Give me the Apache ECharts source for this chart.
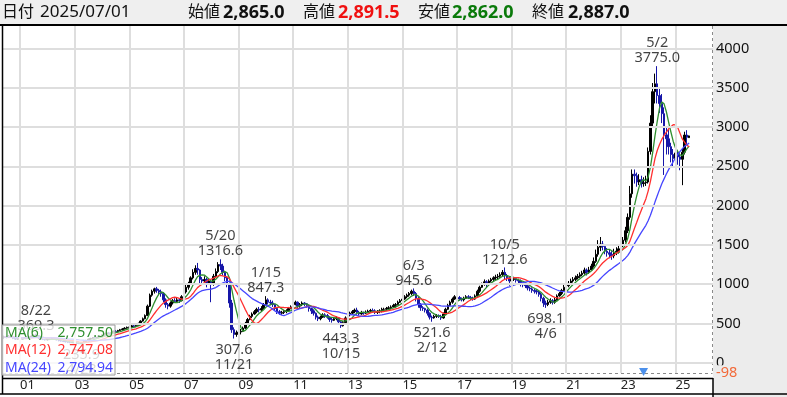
<!DOCTYPE html>
<html><head><meta charset="utf-8">
<script src="https://cdn.jsdelivr.net/npm/echarts@6/dist/echarts.min.js"></script>
<style>html,body{margin:0;padding:0;background:#fff}#c{width:787px;height:397px}</style>
</head><body><div id="c"></div>
<script>
// Monthly candles [open, close, low, high]; y2000 starts in June
const y2000 = [[320,330,305,345],[330,320,310,340],[320,340,315,350],[340,325,318,345],[325,310,300,330],[310,300,290,315],[300,305,292,312]];
const y2001 = [[305,300,292,315],[300,310,295,318],[310,320,302,326],[320,315,308,330],[315,330,312,340],[330,340,325,350],[340,350,335,358],[350,345,338,369.3],[345,318,300,350],[318,300,292,322],[300,295,288,306],[295,290,282,300]];
const y2002 = [[290,295,284,302],[295,300,288,306],[300,310,296,318],[310,305,298,316],[305,290,286,310],[290,280,272,294],[280,275,268,286],[275,270,262,280],[270,265,258,276],[265,260,250,270],[260,255,248,266],[255,260,250,266]];
const y2003 = [[260,250,244,264],[250,245,240,256],[245,240,238,252],[240,255,235.9,258],[255,270,250,276],[270,285,266,290],[285,300,280,306],[300,310,294,316],[310,320,304,326],[320,315,308,330],[315,325,310,330],[325,340,320,345]];
const y2004 = [[340,350,334,358],[350,365,345,372],[365,380,360,390],[380,370,362,392],[370,380,362,388],[380,400,375,410],[400,395,385,415],[395,410,388,418],[410,420,402,430],[420,430,412,440],[430,440,424,452],[440,450,432,460]];
const y2005 = [[450,455,440,468],[455,470,448,480],[470,460,450,482],[460,475,452,485],[475,500,470,510],[500,530,495,540],[530,560,522,575],[560,600,552,615],[600,720,595,740],[720,860,710,880],[860,910,840,930],[910,940,880,955]];
const y2006 = [[940,920,890,965],[920,900,860,940],[900,880,840,930],[880,800,770,900],[800,740,700,820],[740,720,680,760],[720,760,700,780],[760,790,740,810],[790,780,760,820],[780,800,760,830],[800,790,760,820],[790,840,780,860]];
const y2007 = [[840,900,830,920],[900,960,880,990],[960,1000,930,1030],[1000,1080,990,1100],[1080,1150,1060,1190],[1150,1200,1120,1240],[1200,1180,1120,1270],[1180,1060,1000,1190],[1060,1040,1000,1090],[1040,1060,1010,1100],[1060,1010,960,1080],[1010,1040,990,1070]];
const y2008 = [[1040,1000,770,1060],[1000,1100,980,1130],[1100,1160,1080,1200],[1160,1250,1140,1280],[1250,1230,1180,1316.6],[1230,1150,1110,1260],[1150,1080,1040,1170],[1080,1000,960,1100],[1000,760,700,1020],[760,420,380,800],[420,360,307.6,450],[360,380,330,410]];
const y2009 = [[380,390,350,420],[390,400,360,430],[400,440,390,460],[440,500,430,520],[500,550,490,570],[550,590,540,610],[590,620,570,640],[620,650,610,670],[650,680,630,700],[680,670,640,710],[670,690,650,720],[690,740,680,760]];
const y2010 = [[740,800,730,847.3],[800,770,740,820],[770,760,730,800],[760,740,710,790],[740,690,660,750],[690,650,620,700],[650,630,610,670],[630,640,610,660],[640,650,620,670],[650,660,630,680],[660,690,650,710],[690,710,680,730]];
const y2011 = [[710,740,700,760],[740,770,730,790],[770,720,680,780],[720,740,700,760],[740,760,720,780],[760,750,720,770],[750,730,700,760],[730,690,650,740],[690,660,620,700],[660,630,600,680],[630,580,550,640],[580,560,530,600]];
const y2012 = [[560,580,540,600],[580,610,570,630],[610,600,570,630],[600,580,560,620],[580,550,520,590],[550,540,510,570],[540,560,530,580],[560,570,540,590],[570,520,500,580],[520,470,443.3,530],[470,510,460,530],[510,570,500,590]];
const y2013 = [[570,610,560,630],[610,630,590,650],[630,650,610,670],[650,670,630,690],[670,640,610,700],[640,620,600,660],[620,640,610,660],[640,630,610,650],[630,645,620,665],[645,655,630,675],[655,665,640,685],[665,660,640,690]];
const y2014 = [[660,640,620,680],[640,650,620,670],[650,660,630,680],[660,680,640,700],[680,680,660,700],[680,690,665,710],[690,700,675,720],[700,710,680,730],[710,730,700,750],[730,740,700,760],[740,770,730,790],[770,790,760,810]];
const y2015 = [[790,810,770,830],[810,840,800,860],[840,860,820,880],[860,880,840,900],[880,910,860,930],[910,880,850,945.6],[880,820,780,900],[820,740,700,840],[740,700,660,760],[700,690,660,720],[690,670,640,700],[670,630,600,690]];
const y2016 = [[630,580,550,640],[580,570,521.6,600],[570,590,560,610],[590,600,570,620],[600,590,570,615],[590,570,545,610],[570,620,560,640],[620,680,610,700],[680,730,670,750],[730,770,720,790],[770,810,750,830],[810,840,800,860]];
const y2017 = [[840,830,810,860],[830,810,790,850],[810,800,780,830],[800,820,780,840],[820,840,810,860],[840,830,810,860],[830,820,800,850],[820,810,790,840],[810,850,800,870],[850,910,840,930],[910,960,890,980],[960,1000,950,1020]];
const y2018 = [[1000,1030,980,1060],[1030,1000,960,1050],[1000,1040,980,1060],[1040,1060,1020,1080],[1060,1080,1040,1100],[1080,1090,1050,1120],[1090,1100,1060,1130],[1100,1120,1080,1150],[1120,1150,1100,1180],[1150,1110,1060,1212.6],[1110,1080,1040,1130],[1080,1040,980,1100]];
const y2019 = [[1040,1060,1010,1080],[1060,1070,1040,1090],[1070,1050,1020,1090],[1050,1040,1010,1070],[1040,1000,970,1060],[1000,990,960,1020],[990,980,950,1010],[980,950,920,1000],[950,940,910,970],[940,920,890,960],[920,910,880,940],[910,900,870,930]];
const y2020 = [[900,870,840,920],[870,820,780,890],[820,760,710,840],[760,740,698.1,790],[740,770,720,800],[770,790,750,820],[790,770,740,810],[770,800,750,830],[800,850,790,870],[850,880,840,900],[880,920,860,940],[920,960,900,990]];
const y2021 = [[960,980,940,1010],[980,1010,960,1040],[1010,1040,990,1070],[1040,1060,1020,1090],[1060,1080,1040,1110],[1080,1100,1060,1130],[1100,1120,1080,1150],[1120,1140,1100,1170],[1140,1180,1120,1210],[1180,1150,1110,1200],[1150,1180,1130,1220],[1180,1230,1170,1260]];
const y2022 = [[1230,1290,1210,1340],[1290,1380,1270,1440],[1380,1470,1350,1560],[1470,1510,1420,1600],[1510,1480,1430,1550],[1480,1420,1380,1500],[1420,1400,1350,1460],[1400,1380,1330,1440],[1380,1360,1310,1420],[1360,1400,1330,1450],[1400,1420,1370,1470],[1420,1450,1390,1500]];
const y2023 = [[1450,1500,1420,1540],[1500,1560,1470,1600],[1560,1680,1530,1730],[1680,1850,1650,1900],[1850,2150,1820,2250],[2150,2400,2100,2460],[2400,2380,2280,2460],[2380,2300,2240,2420],[2300,2330,2260,2400],[2330,2280,2230,2380],[2280,2290,2240,2360],[2290,2300,2250,2380]];
const y2024 = [[2300,2690,2280,2740],[2690,3050,2650,3150],[3050,3450,3000,3560],[3450,3550,3300,3680],[3550,3400,3300,3775],[3400,3300,3180,3500],[3300,3170,3050,3420],[3170,2900,2390,3250],[2900,2850,2650,3000],[2850,2750,2650,2980],[2750,2650,2550,2800],[2650,2600,2500,2720]];
const y2025 = [[2600,2670,2480,2720],[2670,2620,2520,2700],[2620,2590,2450,2680],[2590,2680,2260,2720],[2680,2898,2650,2940],[2898,2870,2780,2960],[2865,2887,2862,2891.5]];

const dataYears = [2000,2001,2002,2003,2004,2005,2006,2007,2008,2009,2010,2011,2012,2013,2014,2015,2016,2017,2018,2019,2020,2021,2022,2023,2024,2025];
const dataByYear = [y2000,y2001,y2002,y2003,y2004,y2005,y2006,y2007,y2008,y2009,y2010,y2011,y2012,y2013,y2014,y2015,y2016,y2017,y2018,y2019,y2020,y2021,y2022,y2023,y2024,y2025];
const firstDataMonth = 6;
const axisFirst = [2000, 6];
const axisLast = [2026, 5];

// Peak / trough annotations
const annCats   = ['2001/08','2003/04','2008/05','2008/11','2010/01','2012/10','2015/06','2016/02','2018/10','2020/04','2024/05'];
const annValues = [369.3, 235.9, 1316.6, 307.6, 847.3, 443.3, 945.6, 521.6, 1212.6, 698.1, 3775.0];
const annDates  = ['8/22','4/28','5/20','11/21','1/15','10/15','6/3','2/12','10/5','4/6','5/2'];
const annKinds  = ['high','low','high','low','high','low','high','low','high','low','high'];

// Moving averages over monthly closes
const maNames   = ['MA(6)','MA(12)','MA(24)'];
const maWindows = [6, 12, 24];
const maColors  = ['#2f8f2f','#ff3030','#4646ff'];
const maLatest  = ['2,757.50','2,747.08','2,794.94'];

// Header
const hdrDate = '2025/07/01';
const hdrOpen = '2,865.0', hdrHigh = '2,891.5', hdrLow = '2,862.0', hdrClose = '2,887.0';
const markerCat = '2023/11';
const yTicks = [0, 500, 1000, 1500, 2000, 2500, 3000, 3500, 4000];

const categories = [];
{
  let y = axisFirst[0], m = axisFirst[1];
  while (y < axisLast[0] || (y === axisLast[0] && m <= axisLast[1])) {
    categories.push(y + '/' + String(m).padStart(2, '0'));
    m++; if (m > 12) { m = 1; y++; }
  }
}
const ohlc = categories.map(c => {
  const y = +c.slice(0, 4), m = +c.slice(5);
  const k = dataYears.indexOf(y);
  if (k < 0) return '-';
  const off = (y === dataYears[0]) ? m - firstDataMonth : m - 1;
  const d = dataByYear[k][off];
  return d ? d : '-';
});
const closes = ohlc.map(d => d === '-' ? null : d[1]);
function sma(n) {
  return closes.map((c, i) => {
    if (c == null) return '-';
    let s = 0, k = 0;
    for (let j = i; j > i - n && j >= 0; j--) { if (closes[j] != null) { s += closes[j]; k++; } }
    return k ? +(s / k).toFixed(2) : '-';
  });
}
const isOddJan = v => v.slice(5) === '01' && (+v.slice(0, 4)) % 2 === 1;
const gridCats = categories.filter(isOddJan);

const FONT = "'Noto Sans', 'Noto Sans CJK JP', sans-serif";
const chart = echarts.init(document.getElementById('c'), null, {renderer: 'canvas'});

const maSeries = maWindows.map((n, i) => ({
  type: 'line', name: maNames[i], data: sma(n), symbol: 'none', z: 3,
  lineStyle: {color: maColors[i], width: 1.3}, itemStyle: {color: maColors[i]}, silent: true
}));

const gridSeries = {
  type: 'line', data: [], z: 1, silent: true,
  markLine: {
    silent: true, symbol: 'none', animation: false, label: {show: false},
    lineStyle: {color: '#dedede', width: 2, type: 'solid'},
    data: gridCats.map(c => ({xAxis: c})).concat(yTicks.map(v => ({yAxis: v})))
  }
};

const annSeries = {
  type: 'scatter', z: 6, silent: true, symbolSize: 1,
  itemStyle: {color: 'rgba(0,0,0,0)'},
  data: annCats.map((c, i) => ({
    value: [c, annValues[i]],
    label: {
      show: true,
      position: annKinds[i] === 'high' ? 'top' : 'bottom',
      distance: annKinds[i] === 'high' ? 0 : 3,
      formatter: annKinds[i] === 'high'
        ? annDates[i] + '\n' + annValues[i].toFixed(1)
        : annValues[i].toFixed(1) + '\n' + annDates[i],
      fontSize: 14.5, lineHeight: 15, color: '#111', fontFamily: FONT
    }
  }))
};

const markerSeries = {
  type: 'scatter', z: 6, silent: true, symbol: 'triangle', symbolRotate: 180, symbolSize: [9, 8],
  itemStyle: {color: '#1f74e6'}, data: [[markerCat, -118]]
};

const legendRows = maNames.map((n, i) => [
  {type: 'text', z: 21, style: {text: n, x: 5, y: 333 + i * 17.5, font: '14px ' + FONT, fill: maColors[i], verticalAlign: 'middle'}},
  {type: 'text', z: 21, style: {text: maLatest[i], x: 113, y: 333 + i * 17.5, font: '14px ' + FONT, fill: maColors[i], align: 'right', verticalAlign: 'middle'}}
]).flat();

const hdr = (text, x, color, bold, size) => ({type: 'text', z: 21, style: {text, x, y: 12.5, font: (bold ? 'bold ' : '') + size + 'px ' + FONT, fill: color, verticalAlign: 'middle'}});

chart.setOption({
  animation: false,
  backgroundColor: '#ffffff',
  grid: {left: 3, right: 74, top: 26, bottom: 24, show: true, backgroundColor: '#fff', borderWidth: 0},
  xAxis: {
    type: 'category', data: categories, boundaryGap: true,
    axisLine: {show: false}, axisTick: {show: false},
    axisLabel: {interval: (i, v) => isOddJan(v), formatter: v => v.slice(2, 4), align: 'left', margin: 6,
      fontSize: 13, color: '#222', fontFamily: FONT},
    splitLine: {show: false}
  },
  yAxis: {
    type: 'value', position: 'right', min: -131, max: 4286, splitNumber: 9,
    axisLine: {show: false}, axisTick: {show: false},
    axisLabel: {showMinLabel: false, showMaxLabel: false, margin: 3, fontSize: 14.5, color: '#111', fontFamily: FONT,
      formatter: v => String(v)},
    splitLine: {show: false}
  },
  series: [
    gridSeries,
    {type: 'candlestick', data: ohlc, barWidth: 2, z: 2, silent: true,
      itemStyle: {color: '#000', color0: '#1616a8', borderColor: '#000', borderColor0: '#1616a8', borderWidth: 1}},
    ...maSeries, annSeries, markerSeries
  ],
  graphic: [
    {type: 'rect', z: -1, shape: {x: 0, y: 0, width: 787, height: 25}, style: {fill: '#efefef'}},
    {type: 'rect', z: -1, shape: {x: 713, y: 25, width: 74, height: 372}, style: {fill: '#ececec'}},
    {type: 'line', z: 20, shape: {x1: 0, y1: 25, x2: 787, y2: 25}, style: {stroke: '#000', lineWidth: 2}},
    {type: 'line', z: 20, shape: {x1: 2.5, y1: 25, x2: 2.5, y2: 394}, style: {stroke: '#000', lineWidth: 1.5}},
    {type: 'line', z: 5, shape: {x1: 3, y1: 373.5, x2: 712.5, y2: 373.5}, style: {stroke: '#8a8a8a', lineWidth: 1, lineDash: [3, 3]}},
    {type: 'line', z: 5, shape: {x1: 712.5, y1: 26, x2: 712.5, y2: 374}, style: {stroke: '#8a8a8a', lineWidth: 1, lineDash: [3, 3]}},
    {type: 'line', z: 20, shape: {x1: 2, y1: 378.5, x2: 713, y2: 378.5}, style: {stroke: '#000', lineWidth: 1.5}},
    {type: 'line', z: 20, shape: {x1: 0, y1: 394, x2: 787, y2: 394}, style: {stroke: '#000', lineWidth: 1.5}},
    {type: 'line', z: 20, shape: {x1: 713, y1: 378, x2: 713, y2: 397}, style: {stroke: '#000', lineWidth: 1.5}},
    {type: 'text', z: 21, style: {text: '-98', x: 715, y: 372.5, font: '14.5px ' + FONT, fill: '#f26a3a', verticalAlign: 'middle', backgroundColor: '#ececec', padding: [0, 3, 0, 1]}},
    {type: 'rect', z: 20, shape: {x: 2, y: 325, width: 113, height: 50}, style: {fill: 'rgba(255,255,255,0.78)', stroke: '#9a9a9a', lineWidth: 1}},
    ...legendRows,
    hdr('日付', 2, '#111', false, 16),
    hdr(hdrDate, 40, '#111', false, 17),
    hdr('始値', 188, '#111', false, 16),
    hdr(hdrOpen, 223, '#111', true, 18),
    hdr('高値', 303, '#111', false, 16),
    hdr(hdrHigh, 338, '#f01010', true, 18),
    hdr('安値', 418, '#111', false, 16),
    hdr(hdrLow, 452, '#0a7a0a', true, 18),
    hdr('終値', 532, '#111', false, 16),
    hdr(hdrClose, 568, '#111', true, 18)
  ]
});
</script></body></html>
